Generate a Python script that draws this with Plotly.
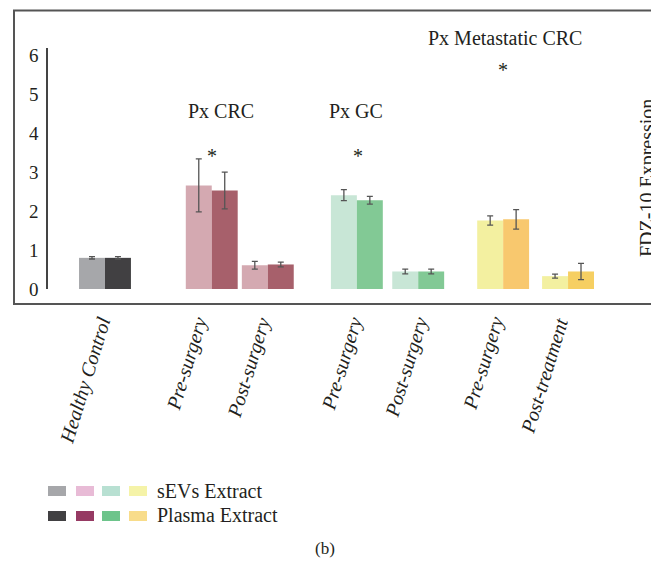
import plotly.graph_objects as go

# ---- data ----
categories = ["Healthy Control", "Pre-surgery", "Post-surgery", "Pre-surgery",
              "Post-surgery", "Pre-surgery", "Post-treatment"]
sevs_values = [0.80, 2.66, 0.61, 2.41, 0.45, 1.76, 0.33]
sevs_errors = [0.03, 0.68, 0.10, 0.14, 0.06, 0.12, 0.05]
plasma_values = [0.80, 2.53, 0.63, 2.28, 0.45, 1.79, 0.45]
plasma_errors = [0.03, 0.47, 0.06, 0.10, 0.06, 0.25, 0.21]
y_ticks = [0, 1, 2, 3, 4, 5, 6]

# ---- layout / styles ----
W, H = 651, 561
L, R, T, B = 48, 11, 48, 272
group_pos = [0, 1.81, 2.76, 4.27, 5.31, 6.75, 7.85]
label_xshift = [13, 3, 10, 13, 17, 8, 7]
bar_w = 0.44
x_range = [-0.966, 9.07]
sevs_colors = ["#a6a7aa", "#d4a9b1", "#d4a9b1", "#c8e6d6", "#c8e6d6", "#f3f0a0", "#f3f0a0"]
plasma_colors = ["#414042", "#a7606b", "#a7606b", "#82c995", "#82c995", "#f8c86e", "#f6cf62"]
legend_top = ["#a6a7aa", "#e8bbd6", "#b8e0d2", "#f5f3a8"]
legend_bot = ["#414042", "#963a63", "#6dc48b", "#f8dc8a"]
FONT = "Liberation Serif"
TXT = "#231f20"

pw = W - L - R
ph = H - T - B


def px(x):
    return (x - L) / pw


def py(y):
    return (H - B - y) / ph


fig = go.Figure()
err_style = dict(type="data", color="#555555", thickness=1.3, width=3)
fig.add_trace(go.Bar(x=group_pos, y=sevs_values, width=bar_w, offset=-bar_w,
                     marker=dict(color=sevs_colors, line=dict(width=0)),
                     error_y=dict(array=sevs_errors, **err_style),
                     name="sEVs Extract", showlegend=False, hoverinfo="skip"))
fig.add_trace(go.Bar(x=group_pos, y=plasma_values, width=bar_w, offset=0,
                     marker=dict(color=plasma_colors, line=dict(width=0)),
                     error_y=dict(array=plasma_errors, **err_style),
                     name="Plasma Extract", showlegend=False, hoverinfo="skip"))

shapes = []
# outer frame
shapes.append(dict(type="rect", xref="paper", yref="paper",
                   x0=px(14), x1=px(668), y0=py(304), y1=py(10.5),
                   line=dict(color="#555555", width=2), fillcolor="rgba(0,0,0,0)"))
# legend swatches
sw_x = [48, 76, 102, 129]
for i, c in enumerate(legend_top):
    shapes.append(dict(type="rect", xref="paper", yref="paper",
                       x0=px(sw_x[i]), x1=px(sw_x[i] + 18), y0=py(496), y1=py(486),
                       line=dict(width=0), fillcolor=c))
for i, c in enumerate(legend_bot):
    shapes.append(dict(type="rect", xref="paper", yref="paper",
                       x0=px(sw_x[i]), x1=px(sw_x[i] + 18), y0=py(521), y1=py(511),
                       line=dict(width=0), fillcolor=c))

ann = []


def text(x, y, s, size=20, **kw):
    d = dict(x=px(x), y=py(y), xref="paper", yref="paper", text=s, showarrow=False,
             font=dict(family=FONT, size=size, color=TXT), xanchor="center", yanchor="middle")
    d.update(kw)
    ann.append(d)


text(221, 111, "Px CRC")
text(356, 111, "Px GC")
text(505, 38, "Px Metastatic CRC")
text(212, 156, "*")
text(358, 156, "*")
text(503, 70, "*")
text(647, 178, "FDZ-10 Expression", textangle=-90)
text(155, 491, "sEVs Extract", xanchor="left")
text(155, 515, "Plasma Extract", xanchor="left")
text(325, 548, "(b)", size=17)

# rotated category labels under each group
for gx, lab, sh in zip(group_pos, categories, label_xshift):
    ann.append(dict(x=gx, xref="x", y=py(312), yref="paper", text="<i>%s</i>" % lab,
                    showarrow=False, textangle=-73, xanchor="right", yanchor="top",
                    xshift=sh, font=dict(family=FONT, size=20, color=TXT)))

fig.update_layout(
    width=W, height=H,
    margin=dict(l=L, r=R, t=T, b=B, pad=0),
    paper_bgcolor="white", plot_bgcolor="white",
    barmode="overlay", hovermode=False,
    shapes=shapes, annotations=ann,
    xaxis=dict(range=x_range, showticklabels=False,
               showgrid=False, zeroline=False, showline=False, ticks=""),
    yaxis=dict(range=[0, 6.19], tickmode="array", tickvals=y_ticks,
               tickfont=dict(family=FONT, size=19, color=TXT),
               showgrid=False, zeroline=False, showline=True, linecolor="#444444",
               linewidth=1.5, ticks="", ticklabelstandoff=4),
)

fig.write_html("out.html", config={"displayModeBar": False},
               post_script="document.body.style.margin='0';document.body.style.overflow='hidden';")
